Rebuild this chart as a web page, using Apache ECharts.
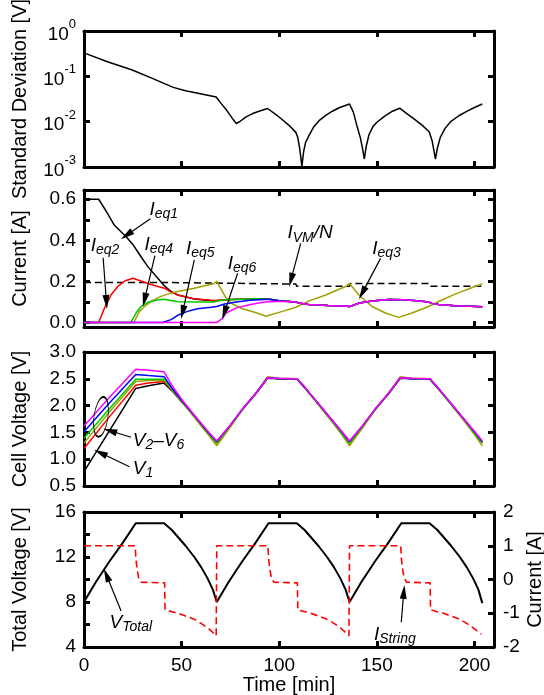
<!DOCTYPE html>
<html>
<head>
<meta charset="utf-8">
<script src="https://cdn.jsdelivr.net/npm/echarts@6/dist/echarts.min.js"></script>
<style>
  html, body { margin: 0; padding: 0; background: #fff; }
  #main { width: 544px; height: 695px; }
</style>
</head>
<body>
<div id="main"></div>
<script>
// ---- data ----
const xTicks = [0, 50, 100, 150, 200];

// panel 1: standard deviation [V]
const stdDev = [[0,0.33],[12,0.21],[24.4,0.14],[35,0.09],[45.7,0.057],[52,0.048],[59,0.042],[67.7,0.035],
  [70,0.026],[73,0.018],[76,0.0118],[78,0.0091],[80,0.0102],[83,0.0128],[86.4,0.0151],[90,0.0172],[94,0.0195],
  [98,0.0146],[101,0.0116],[105,0.0083],[108.5,0.0058],[109.5,0.0045],[110.5,0.0025],[111.6,0.00105],[112.5,0.0022],
  [113.5,0.0035],[115.3,0.005],[117.5,0.0075],[120.4,0.0105],[124,0.014],[127.2,0.017],[131,0.0205],[136,0.0245],
  [138,0.016],[140,0.0075],[141.5,0.0045],[142.7,0.0025],[143.6,0.0015],[144.5,0.0028],[146,0.0052],[148,0.0078],
  [150,0.0097],[154,0.0133],[158,0.017],[161.7,0.0198],[165,0.0155],[169,0.0115],[173,0.0085],[176.8,0.006],
  [178.3,0.0038],[179.3,0.0022],[180,0.0015],[181,0.0026],[182.5,0.0045],[185,0.0072],[188,0.0102],[192,0.0135],
  [196,0.0168],[200,0.0205],[204,0.0245]];

// panel 2: equalizer currents [A]
const merged = [[72,0.111],[80,0.113],[88,0.115],[95,0.113],[100,0.106],[108.5,0.1],[110,0.095],[115,0.088],
  [125,0.083],[133,0.08],[136,0.078],[138,0.084],[141,0.095],[147.6,0.105],[156,0.112],[164,0.111],[172,0.104],
  [176.5,0.1],[178,0.093],[181.6,0.087],[190,0.082],[198,0.079],[204,0.077]];
const ieq1 = [[0,0.6],[7.5,0.6],[10.5,0.555],[15.6,0.473],[21.6,0.417],[25,0.38],[29.2,0.32],[32.7,0.272],
  [37.8,0.215],[41,0.18],[44,0.155],[48,0.134],[56.5,0.114],[66.7,0.105],[68,0.106]].concat(merged);
const ieq2 = [[0,0],[7.5,0],[10.5,0.07],[13.9,0.135],[17.3,0.175],[20.8,0.202],[25,0.215],[31,0.196],[36,0.18],
  [41.2,0.167],[44,0.15],[48,0.134],[56.5,0.115],[66.7,0.107],[68,0.108]].concat(merged);
const ieq3 = [[0,0],[25.5,0],[28.4,0.054],[31,0.078],[34.3,0.102],[39.4,0.127],[42.9,0.138],[48,0.151],
  [56.5,0.167],[66.7,0.19],[68,0.2],[72.8,0.119],[76,0.09],[81.3,0.067],[88.6,0.046],[93.2,0.03],[101.7,0.054],
  [108.5,0.074],[115.3,0.105],[123.8,0.134],[134,0.175],[136,0.19],[140.8,0.134],[147.6,0.078],[154.4,0.046],
  [161.2,0.025],[168,0.046],[176.5,0.078],[181.6,0.102],[190.1,0.138],[200.3,0.175],[204,0.188]];
const ieq4 = [[0,0],[24,0],[26.7,0.046],[29.2,0.078],[32.6,0.098],[37.8,0.11],[41,0.113],[42,0.105],[48,0.101],
  [60,0.1],[66.7,0.1],[68,0.105]].concat(merged);
const ieq5 = [[0,0],[40.3,0],[44.6,0.014],[48,0.035],[53,0.054],[58.2,0.067],[65,0.074],[68,0.078],[72,0.09],
  [78,0.1],[85,0.108],[92,0.112],[95,0.113]].concat(merged.slice(4));
const ieq6 = [[0,0],[68,0],[71,0.02],[72.8,0.046],[77.9,0.07],[84.7,0.086],[91.5,0.098],[100,0.103],[108.5,0.1]]
  .concat(merged.slice(6));
const ivmN = [[0,0.195],[40,0.195],[40.5,0.187],[108.5,0.187],[109,0.176],[136,0.176],[136.5,0.19],[176.5,0.19],
  [177,0.176],[204,0.176]];

// panel 3: cell voltages [V]
const tCell = [0,13,26.5,33,41,45,50,55,60,64,68,75,81,88,94,100,109,113,118,123,128,132,136,143,149,156,162,168,
  177,181,186,191,196,200,204];
const v1 = [0.77,1.53,2.32,2.37,2.42,2.28,2.07,1.86,1.64,1.47,1.31,1.63,1.92,2.22,2.51,2.5,2.5,2.34,2.12,1.9,1.68,
  1.5,1.31,1.63,1.92,2.22,2.51,2.5,2.5,2.34,2.12,1.9,1.68,1.5,1.31];
const v2 = [1.2,1.79,2.38,2.42,2.45,2.29,2.08,1.87,1.65,1.47,1.3,1.63,1.92,2.22,2.52,2.5,2.5,2.34,2.12,1.9,1.68,
  1.49,1.3,1.63,1.92,2.22,2.52,2.5,2.5,2.34,2.12,1.9,1.68,1.49,1.3];
const v3 = [1.3,1.88,2.45,2.47,2.47,2.3,2.08,1.85,1.62,1.44,1.25,1.6,1.91,2.23,2.54,2.51,2.5,2.33,2.11,1.88,1.65,
  1.46,1.25,1.6,1.91,2.23,2.54,2.51,2.5,2.33,2.11,1.88,1.65,1.46,1.25];
const v4 = [1.39,1.94,2.49,2.49,2.49,2.31,2.09,1.87,1.65,1.47,1.3,1.63,1.92,2.22,2.52,2.5,2.5,2.34,2.12,1.9,1.68,
  1.49,1.3,1.63,1.92,2.22,2.52,2.5,2.5,2.34,2.12,1.9,1.68,1.49,1.3];
const v5 = [1.51,2.05,2.58,2.56,2.54,2.33,2.1,1.88,1.66,1.49,1.33,1.64,1.93,2.23,2.52,2.5,2.5,2.34,2.13,1.91,1.69,
  1.51,1.33,1.64,1.93,2.23,2.52,2.5,2.5,2.34,2.13,1.91,1.69,1.51,1.33];
const v6 = [1.62,2.15,2.68,2.66,2.63,2.38,2.12,1.89,1.67,1.5,1.34,1.64,1.93,2.23,2.52,2.51,2.5,2.35,2.13,1.91,1.69,
  1.52,1.34,1.64,1.93,2.23,2.52,2.51,2.5,2.35,2.13,1.91,1.69,1.52,1.34];

// panel 4: total voltage [V] and string current [A]
const vTotal = [[0,8],[6,9.75],[13,11.6],[20,13.3],[26.5,15],[41,15],[45,14.4],[48,13.8],[52,13],[56.5,12],
  [60,11.1],[63.3,10.1],[66,9.1],[68,8],[74,9.75],[81,11.6],[88,13.3],[94.5,15],[109,15],[113,14.4],[116,13.8],
  [120,13],[124.5,12],[128,11.1],[131.3,10.1],[134,9.1],[136,8],[142,9.75],[149,11.6],[156,13.3],[162.5,15],
  [177,15],[181,14.4],[184,13.8],[188,13],[192.5,12],[196,11.1],[199.3,10.1],[202,9.1],[204,7.9]];
const iString = [[0,1],[26.2,1],[26.6,0.6],[27.2,0.3],[28,0.05],[29.2,-0.08],[30,-0.1],[41.3,-0.1],[41.5,-0.9],
  [48,-1],[52,-1.08],[56.5,-1.18],[60,-1.3],[63.3,-1.43],[66,-1.57],[67.7,-1.67],[68,1],
  [94.2,1],[94.6,0.6],[95.2,0.3],[96,0.05],[97.2,-0.08],[98,-0.1],[109.3,-0.1],[109.5,-0.9],[116,-1],[120,-1.08],
  [124.5,-1.18],[128,-1.3],[131.3,-1.43],[134,-1.57],[135.7,-1.67],[136,1],
  [162.2,1],[162.6,0.6],[163.2,0.3],[164,0.05],[165.2,-0.08],[166,-0.1],[177.3,-0.1],[177.5,-0.9],[184,-1],
  [188,-1.08],[192.5,-1.18],[196,-1.3],[199.3,-1.43],[202,-1.55],[203.5,-1.62]];

// ---- styling ----
const FONT = 'Liberation Sans, Arial, sans-serif';
const C = { black: '#000000', red: '#ff0000', olive: '#a0a000', green: '#00c800', blue: '#0000ff', magenta: '#ff00ff' };
const grids = [
  { left: 84, right: 50, top: 31, height: 136, outerBoundsMode: 'none' },
  { left: 84, right: 50, top: 190, height: 137, outerBoundsMode: 'none' },
  { left: 84, right: 50, top: 352, height: 134, outerBoundsMode: 'none' },
  { left: 84, right: 50, top: 512, height: 135, outerBoundsMode: 'none' }
];

const annoRich = {
  i: { fontFamily: FONT, fontStyle: 'italic', fontSize: 19, lineHeight: 21, verticalAlign: 'top', color: '#000' },
  s: { fontFamily: FONT, fontStyle: 'italic', fontSize: 14, lineHeight: 21, verticalAlign: 'bottom', color: '#000' }
};

const anno2 = [
  { text: '{i|I}{s|eq1}', at: [33.5, 0.545], from: [34, 0.505], to: [21.8, 0.425] },
  { text: '{i|I}{s|eq2}', at: [3.4, 0.37], from: [9.8, 0.315], to: [11.5, 0.1] },
  { text: '{i|I}{s|eq4}', at: [31, 0.375], from: [36.3, 0.325], to: [31, 0.11] },
  { text: '{i|I}{s|eq5}', at: [52.2, 0.355], from: [56.5, 0.305], to: [50.5, 0.05] },
  { text: '{i|I}{s|eq6}', at: [73.6, 0.28], from: [78.7, 0.24], to: [71.9, 0.048] },
  { text: '{i|I}{s|VM}{i|/N}', at: [104.2, 0.43], from: [111, 0.385], to: [106, 0.207] },
  { text: '{i|I}{s|eq3}', at: [147.6, 0.355], from: [151.9, 0.312], to: [142.5, 0.143] }
];
const anno3 = [
  { text: '{i|V}{s|2}{i|–V}{s|6}', at: [25, 1.32], from: [24.1, 1.41], to: [13.3, 1.53] },
  { text: '{i|V}{s|1}', at: [25, 0.8], from: [23.3, 0.86], to: [8.4, 1.12] }
];
const anno4 = [
  { text: '{i|V}{s|Total}', at: [13.1, 6.1], from: [19, 7.2], to: [11.5, 10.4] },
  { text: '{i|I}{s|String}', at: [148.5, 5.0], from: [162.5, 6.2], to: [163.8, 8.9] }
];

function baseAxis(extra) {
  return Object.assign({
    axisLine: { show: true, onZero: false, lineStyle: { color: '#000', width: 3 } },
    axisTick: { show: true, inside: true, length: 6, lineStyle: { color: '#000', width: 3 } },
    axisLabel: { show: false, color: '#000', fontFamily: FONT, fontSize: 19 },
    splitLine: { show: false },
    nameMoveOverlap: false,
    nameTextStyle: { color: '#000', fontFamily: FONT, fontSize: 20 }
  }, extra);
}

const xAxis = [];
const yAxis = [];
for (let g = 0; g < 4; g++) {
  const last = g === 3;
  xAxis.push(baseAxis({
    type: 'value', gridIndex: g, position: 'bottom', min: 0, max: 210, interval: 50,
    axisLabel: { show: last, color: '#000', fontFamily: FONT, fontSize: 19, margin: 9 },
    name: last ? 'Time [min]' : '', nameLocation: 'middle', nameGap: 28
  }));
  xAxis.push(baseAxis({ type: 'value', gridIndex: g, position: 'top', min: 0, max: 210, interval: 50 }));
}

const labelStyle = { show: true, color: '#000', fontFamily: FONT, fontSize: 19, margin: 8 };
// panel 1 (log)
const supRich = {
  b: { fontFamily: FONT, fontSize: 19, lineHeight: 26, verticalAlign: 'bottom', color: '#000' },
  p: { fontFamily: FONT, fontSize: 13, lineHeight: 26, verticalAlign: 'top', color: '#000' }
};
yAxis.push(baseAxis({
  type: 'log', logBase: 10, gridIndex: 0, position: 'left', min: 0.001, max: 1,
  axisLabel: Object.assign({}, labelStyle, { rich: supRich,
    formatter: v => '{b|10}{p|' + Math.round(Math.log10(v)) + '}' }),
  name: 'Standard Deviation [V]', nameLocation: 'middle', nameGap: 54, nameRotate: 90
}));
yAxis.push(baseAxis({ type: 'log', logBase: 10, gridIndex: 0, position: 'right', min: 0.001, max: 1 }));
// panel 2
const curTicks = [0, 0.1, 0.2, 0.3, 0.4, 0.5, 0.6];
const curLabels = [0, 0.2, 0.4, 0.6];
yAxis.push(baseAxis({
  type: 'value', gridIndex: 1, position: 'left', min: -0.022, max: 0.645,
  axisTick: { show: true, inside: true, length: 6, lineStyle: { color: '#000', width: 3 }, customValues: curTicks },
  axisLabel: Object.assign({}, labelStyle, { customValues: curLabels, formatter: v => v.toFixed(1) }),
  name: 'Current [A]', nameLocation: 'middle', nameGap: 54, nameRotate: 90
}));
yAxis.push(baseAxis({
  type: 'value', gridIndex: 1, position: 'right', min: -0.022, max: 0.645,
  axisTick: { show: true, inside: true, length: 6, lineStyle: { color: '#000', width: 3 }, customValues: curTicks }
}));
// panel 3
yAxis.push(baseAxis({
  type: 'value', gridIndex: 2, position: 'left', min: 0.5, max: 3.0, interval: 0.5,
  axisLabel: Object.assign({}, labelStyle, { formatter: v => v.toFixed(1) }),
  name: 'Cell Voltage [V]', nameLocation: 'middle', nameGap: 54, nameRotate: 90
}));
yAxis.push(baseAxis({ type: 'value', gridIndex: 2, position: 'right', min: 0.5, max: 3.0, interval: 0.5 }));
// panel 4
yAxis.push(baseAxis({
  type: 'value', gridIndex: 3, position: 'left', min: 4, max: 16, interval: 2,
  axisLabel: Object.assign({}, labelStyle, { customValues: [4, 8, 12, 16] }),
  name: 'Total Voltage [V]', nameLocation: 'middle', nameGap: 54, nameRotate: 90
}));
yAxis.push(baseAxis({
  type: 'value', gridIndex: 3, position: 'right', min: -2, max: 2, interval: 1,
  axisLabel: Object.assign({}, labelStyle, { margin: 9 }),
  name: 'Current [A]', nameLocation: 'middle', nameGap: 31, nameRotate: 90
}));

function line(data, g, color, width, dash, yOff) {
  return {
    type: 'line', xAxisIndex: 2 * g, yAxisIndex: 2 * g + (yOff || 0), data: data,
    showSymbol: false, symbol: 'none', silent: true, animation: false,
    lineStyle: { color: color, width: width, type: dash ? [7, 4] : 'solid' }
  };
}

function annoSeries(g, list, ellipse) {
  const pts = list.map(a => ({
    coord: a.at, symbol: 'circle', symbolSize: 0,
    label: { show: true, position: 'right', distance: 0, formatter: a.text, rich: annoRich }
  }));
  if (ellipse) {
    pts.push({ coord: ellipse.at, symbol: 'circle', symbolSize: ellipse.size, symbolRotate: ellipse.rotate,
      itemStyle: { color: 'rgba(0,0,0,0)', borderColor: '#000', borderWidth: 1.2 }, label: { show: false } });
  }
  return {
    type: 'line', xAxisIndex: 2 * g, yAxisIndex: 2 * g, data: [], silent: true, animation: false, z: 10,
    markLine: {
      silent: true, animation: false, label: { show: false },
      lineStyle: { color: '#000', width: 1.2, type: 'solid' },
      data: list.map(a => [
        { coord: a.from, symbol: 'none' },
        { coord: a.to, symbol: 'triangle', symbolSize: [7, 14] }
      ])
    },
    markPoint: { silent: true, animation: false, data: pts }
  };
}

const series = [
  line(stdDev, 0, C.black, 1.5),
  line(ivmN, 1, C.black, 1.5, true),
  line(ieq1, 1, C.black, 1.5),
  line(ieq2, 1, C.red, 1.5),
  line(ieq3, 1, C.olive, 1.5),
  line(ieq4, 1, C.green, 1.5),
  line(ieq5, 1, C.blue, 1.5),
  line(ieq6, 1, C.magenta, 1.5),
  annoSeries(1, anno2),
  line(tCell.map((t, i) => [t, v1[i]]), 2, C.black, 1.5),
  line(tCell.map((t, i) => [t, v2[i]]), 2, C.red, 1.5),
  line(tCell.map((t, i) => [t, v3[i]]), 2, C.olive, 1.5),
  line(tCell.map((t, i) => [t, v4[i]]), 2, C.green, 1.5),
  line(tCell.map((t, i) => [t, v5[i]]), 2, C.blue, 1.5),
  line(tCell.map((t, i) => [t, v6[i]]), 2, C.magenta, 1.5),
  annoSeries(2, anno3, { at: [8.7, 1.79], size: [14, 40], rotate: -8 }),
  line(vTotal, 3, C.black, 2),
  line(iString, 3, C.red, 1.6, true, 1),
  annoSeries(3, anno4)
];

const chart = echarts.init(document.getElementById('main'), null, { renderer: 'canvas' });
chart.setOption({
  backgroundColor: '#fff',
  animation: false,
  grid: grids,
  xAxis: xAxis,
  yAxis: yAxis,
  series: series
});
</script>
</body>
</html>
